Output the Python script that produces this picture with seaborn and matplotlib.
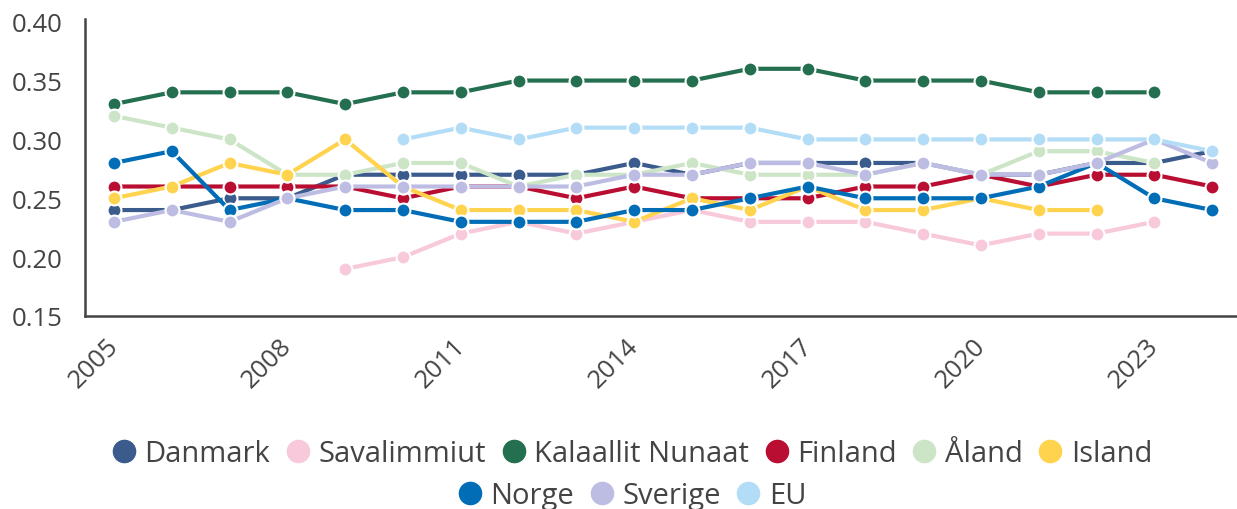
import matplotlib
matplotlib.use("Agg")
import matplotlib.pyplot as plt
from matplotlib.lines import Line2D
import numpy as np
import pandas as pd
import seaborn as sns

years = list(range(2005, 2025))
nan = np.nan

danmark = [0.24, 0.24, 0.25, 0.25, 0.27, 0.27, 0.27, 0.27, 0.27, 0.28,
           0.27, 0.28, 0.28, 0.28, 0.28, 0.27, 0.27, 0.28, 0.28, 0.29]
savalimmiut = [nan, nan, nan, nan, 0.19, 0.20, 0.22, 0.23, 0.22, 0.23,
               0.24, 0.23, 0.23, 0.23, 0.22, 0.21, 0.22, 0.22, 0.23, nan]
kalaallit = [0.33, 0.34, 0.34, 0.34, 0.33, 0.34, 0.34, 0.35, 0.35, 0.35,
             0.35, 0.36, 0.36, 0.35, 0.35, 0.35, 0.34, 0.34, 0.34, nan]
finland = [0.26, 0.26, 0.26, 0.26, 0.26, 0.25, 0.26, 0.26, 0.25, 0.26,
           0.25, 0.25, 0.25, 0.26, 0.26, 0.27, 0.26, 0.27, 0.27, 0.26]
aland = [0.32, 0.31, 0.30, 0.27, 0.27, 0.28, 0.28, 0.26, 0.27, 0.27,
         0.28, 0.27, 0.27, 0.27, 0.28, 0.27, 0.29, 0.29, 0.28, nan]
island = [0.25, 0.26, 0.28, 0.27, 0.30, 0.26, 0.24, 0.24, 0.24, 0.23,
          0.25, 0.24, 0.26, 0.24, 0.24, 0.25, 0.24, 0.24, nan, nan]
norge = [0.28, 0.29, 0.24, 0.25, 0.24, 0.24, 0.23, 0.23, 0.23, 0.24,
         0.24, 0.25, 0.26, 0.25, 0.25, 0.25, 0.26, 0.28, 0.25, 0.24]
sverige = [0.23, 0.24, 0.23, 0.25, 0.26, 0.26, 0.26, 0.26, 0.26, 0.27,
           0.27, 0.28, 0.28, 0.27, 0.28, 0.27, 0.27, 0.28, 0.30, 0.28]
eu = [nan, nan, nan, nan, nan, 0.30, 0.31, 0.30, 0.31, 0.31,
      0.31, 0.31, 0.30, 0.30, 0.30, 0.30, 0.30, 0.30, 0.30, 0.29]

names = ["Danmark", "Savalimmiut", "Kalaallit Nunaat", "Finland", "Åland",
         "Island", "Norge", "Sverige", "EU"]
series = [danmark, savalimmiut, kalaallit, finland, aland, island, norge, sverige, eu]
colors = ["#3b5b8c", "#f7c9da", "#246f50", "#b90e31", "#cde5c7",
          "#ffd34d", "#006db6", "#bdbde3", "#b3ddf6"]

rows = []
for name, vals in zip(names, series):
    for y, v in zip(years, vals):
        rows.append({"year": y, "land": name, "value": v})
df = pd.DataFrame(rows).dropna()
# points sit in the middle of each year interval
df["xpos"] = df["year"] + 0.5

sns.set_style("white")
plt.rcParams["font.family"] = ["Open Sans", "DejaVu Sans"]
text_col = "#444444"

fig = plt.figure(figsize=(12.37, 5.10), dpi=100)
ax = fig.add_axes([85 / 1237, 1 - 317 / 510, 1 - 85 / 1237, (317 - 20) / 510])

sns.lineplot(data=df, x="xpos", y="value", hue="land", hue_order=names,
             palette=dict(zip(names, colors)), marker="o", markersize=10,
             markeredgecolor="white", markeredgewidth=1.5, linewidth=3,
             legend=False, ax=ax)

ax.set_xlim(2005, 2024.93)
ax.set_ylim(0.15, 0.4023)
ax.set_yticks([0.15, 0.20, 0.25, 0.30, 0.35, 0.40])
ax.set_yticklabels([f"{t:.2f}" for t in [0.15, 0.20, 0.25, 0.30, 0.35, 0.40]])
ax.set_xticks(list(range(2005, 2025)))
ax.set_xticklabels([str(y) if (y - 2005) % 3 == 0 else "" for y in range(2005, 2025)])
ax.set_xlabel("")
ax.set_ylabel("")

for s in ["top", "right"]:
    ax.spines[s].set_visible(False)
for s in ["left", "bottom"]:
    ax.spines[s].set_color(text_col)
    ax.spines[s].set_linewidth(1.8)

ax.tick_params(axis="both", colors=text_col, labelcolor=text_col, length=8,
               width=1.5, labelsize=18.5, direction="out")
ax.tick_params(axis="y", pad=8)
ax.tick_params(axis="x", pad=19)
for lab in ax.get_xticklabels():
    lab.set_rotation(45)
    lab.set_rotation_mode("anchor")
    lab.set_ha("center")
    lab.set_va("top")

handles = [Line2D([], [], linestyle="none", marker="o", markersize=18,
                  markerfacecolor=c, markeredgecolor="white", markeredgewidth=1)
           for c in colors]
leg_kw = dict(frameon=False, fontsize=21, handletextpad=0.2, columnspacing=0.45,
              handlelength=1.0, labelcolor=text_col, loc="center")
leg1 = fig.legend(handles[:6], names[:6], ncol=6,
                  bbox_to_anchor=(0.51, 1 - 455 / 510), **leg_kw)
leg2 = fig.legend(handles[6:], names[6:], ncol=3,
                  bbox_to_anchor=(0.51, 1 - 497 / 510), **leg_kw)

fig.savefig("out.png", dpi=100)
